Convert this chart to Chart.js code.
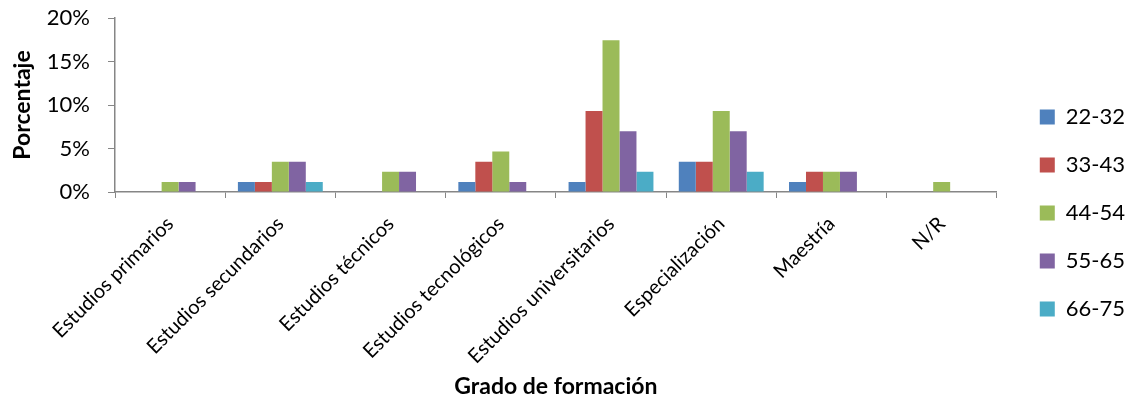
<!DOCTYPE html>
<html lang="es">
<head>
<meta charset="utf-8">
<title>Grado de formación</title>
<script src="https://cdn.jsdelivr.net/npm/chart.js@4"></script>
<style>
  html, body { margin: 0; padding: 0; background: #ffffff; }
  #wrap { width: 1135px; height: 400px; }
</style>
</head>
<body>
<div id="wrap"><canvas id="gradoChart"></canvas></div>
<script>
// ==========================
// Data
// ==========================

const categories = [
  "Estudios primarios",
  "Estudios secundarios",
  "Estudios técnicos",
  "Estudios tecnológicos",
  "Estudios universitarios",
  "Especialización",
  "Maestría",
  "N/R",
];

const seriesNames = ["22-32", "33-43", "44-54", "55-65", "66-75"];

const age22_32 = [null, 1.16, null, 1.16, 1.16, 3.49, 1.16, null];
const age33_43 = [null, 1.16, null, 3.49, 9.30, 3.49, 2.33, null];
const age44_54 = [1.16, 3.49, 2.33, 4.65, 17.44, 9.30, 2.33, 1.16];
const age55_65 = [1.16, 3.49, 2.33, 1.16, 6.98, 6.98, 2.33, null];
const age66_75 = [null, 1.16, null, null, 2.33, 2.33, null, null];

const yTicks = [0, 5, 10, 15, 20];

const seriesColors = ["#4F81BD", "#C0504D", "#9BBB59", "#8064A2", "#4BACC6"];

// ==========================
// Chart
// ==========================

const FONT = "Lato, 'Open Sans', sans-serif";
const axisGray = "#868686";

const allSeries = [age22_32, age33_43, age44_54, age55_65, age66_75];

const datasets = allSeries.map((values, i) => ({
  label: seriesNames[i],
  data: values,
  backgroundColor: seriesColors[i],
  borderWidth: 0,
  categoryPercentage: 0.77,
  barPercentage: 1.0,
}));

new Chart(document.getElementById("gradoChart"), {
  type: "bar",
  data: {
    labels: categories,
    datasets: datasets,
  },
  options: {
    responsive: true,
    maintainAspectRatio: false,
    animation: false,
    layout: {
      padding: { top: 18, right: 0, bottom: 0, left: 0 },
    },
    plugins: {
      tooltip: { enabled: false },
      legend: {
        position: "right",
        align: "center",
        weight: 3000,
        // blank title just pushes the legend items down a bit
        title: { display: true, text: "", font: { size: 1 }, padding: { top: 3, bottom: 4 } },
        labels: {
          color: "#000000",
          font: { family: FONT, size: 22 },
          boxWidth: 15,
          boxHeight: 15,
          padding: 26,
        },
      },
    },
    scales: {
      x: {
        grid: {
          display: true,
          drawOnChartArea: false,
          drawTicks: true,
          tickLength: 6,
          color: axisGray,
          offset: true,
        },
        border: { display: true, color: axisGray, width: 1.5 },
        ticks: {
          color: "#000000",
          font: { family: FONT, size: 20 },
          autoSkip: false,
          minRotation: 45,
          maxRotation: 45,
          padding: 14,
        },
        title: {
          display: true,
          text: "Grado de formación",
          color: "#000000",
          font: { family: FONT, size: 23, weight: "bold" },
          padding: { top: 0, bottom: 0 },
        },
        afterFit: (scale) => {
          scale.height = 208;
        },
      },
      y: {
        min: 0,
        max: 20,
        afterBuildTicks: (scale) => {
          scale.ticks = yTicks.map((v) => ({ value: v }));
        },
        grid: {
          display: true,
          drawOnChartArea: false,
          drawTicks: true,
          tickLength: 7,
          color: axisGray,
        },
        border: { display: true, color: axisGray, width: 1.5 },
        ticks: {
          color: "#000000",
          font: { family: FONT, size: 22 },
          padding: 18,
          callback: (v) => v + "%",
        },
        title: {
          display: true,
          text: "Porcentaje",
          color: "#000000",
          font: { family: FONT, size: 23, weight: "bold" },
          padding: { top: 9, bottom: 0 },
        },
        afterFit: (scale) => {
          scale.width = 115;
          // tick padding would otherwise push the plot top down
          scale.paddingTop = 0;
          scale.paddingBottom = 0;
        },
      },
      // empty axis only used as a gap between plot and legend
      gap: {
        type: "linear",
        position: "right",
        display: true,
        grid: { display: false },
        border: { display: false },
        ticks: { display: false },
        afterFit: (scale) => {
          scale.width = 17;
        },
      },
    },
  },
});
</script>
</body>
</html>
